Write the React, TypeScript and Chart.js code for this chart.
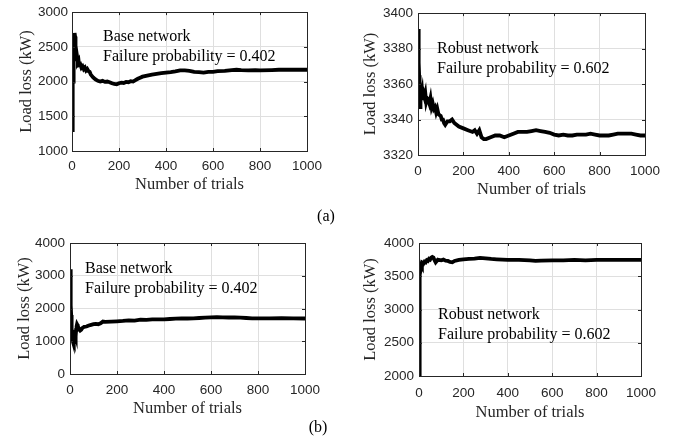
import React, { useEffect, useRef } from "react";
import { Chart, registerables } from "chart.js";

Chart.register(...registerables);

// ---------- data (trial number, running mean of load loss in kW) ----------
const trialTicks = [0, 200, 400, 600, 800, 1000];

const baseTicksA = [1000, 1500, 2000, 2500, 3000];
const robustTicksA = [3320, 3340, 3360, 3380, 3400];
const baseTicksB = [0, 1000, 2000, 3000, 4000];
const robustTicksB = [2000, 2500, 3000, 3500, 4000];

const baseNetworkA: [number, number][] = [
  [1, 1300], [2, 1900], [3, 1600], [4, 2200], [5, 2000], [6, 2400], [7, 2300], [8, 2550],
  [9, 2500], [10, 2650], [11, 2600], [12, 2700], [13, 2650], [14, 2550], [15, 2600], [16, 2450],
  [18, 2380], [20, 2300], [22, 2350], [25, 2280], [28, 2300], [30, 2240], [35, 2250], [40, 2200],
  [45, 2220], [50, 2180], [55, 2200], [60, 2160], [65, 2180], [70, 2150], [75, 2140], [80, 2100],
  [90, 2060], [100, 2030], [110, 2010], [120, 2000], [130, 2010], [140, 1995], [150, 2000],
  [160, 1990], [170, 1975], [180, 1965], [190, 1960], [200, 1975], [210, 1985], [220, 1980],
  [230, 1995], [240, 1990], [250, 2005], [260, 2000], [270, 2020], [280, 2040], [290, 2055],
  [300, 2070], [320, 2085], [340, 2100], [360, 2110], [380, 2120], [400, 2130], [420, 2135],
  [440, 2145], [460, 2160], [480, 2160], [500, 2155], [520, 2140], [540, 2135], [560, 2130],
  [580, 2140], [600, 2140], [620, 2150], [650, 2155], [680, 2165], [700, 2170], [720, 2165],
  [750, 2160], [780, 2165], [800, 2160], [850, 2165], [880, 2170], [900, 2170], [950, 2170],
  [1000, 2170],
];

const robustNetworkA: [number, number][] = [
  [1, 3391], [2, 3380], [3, 3388], [4, 3372], [5, 3365], [6, 3360], [7, 3357], [8, 3350],
  [9, 3347], [10, 3352], [12, 3356], [15, 3354], [18, 3356], [21, 3351], [24, 3355],
  [28, 3353], [32, 3355], [36, 3350], [40, 3352], [45, 3351], [50, 3349], [55, 3352],
  [60, 3347], [65, 3349], [70, 3346], [75, 3347], [80, 3344], [85, 3346], [90, 3343],
  [100, 3342], [105, 3340], [110, 3340], [115, 3338], [120, 3337], [130, 3339], [140, 3339],
  [150, 3340], [160, 3338], [170, 3337], [180, 3336], [200, 3335], [220, 3334], [240, 3333],
  [250, 3334], [260, 3332], [270, 3334], [280, 3330], [290, 3329], [300, 3329], [320, 3330],
  [340, 3331], [360, 3331], [380, 3330], [400, 3331], [420, 3332], [440, 3333], [460, 3333],
  [480, 3333], [500, 3333.5], [520, 3334], [540, 3333.5], [560, 3333], [580, 3332.5],
  [600, 3331.5], [620, 3331], [640, 3331.5], [660, 3331], [680, 3331], [700, 3331.5],
  [720, 3331.5], [740, 3331.5], [760, 3332], [780, 3331.5], [800, 3331], [820, 3331],
  [840, 3331], [860, 3331.5], [880, 3332], [900, 3332], [920, 3332], [940, 3332],
  [960, 3331.5], [980, 3331], [1000, 3331],
];

const baseNetworkB: [number, number][] = [
  [1, 1600], [2, 3200], [3, 2600], [4, 2100], [5, 1800], [6, 1500], [7, 1300], [8, 1200],
  [10, 1050], [12, 1000], [14, 1100], [16, 1050], [18, 1250], [20, 1350], [22, 1200],
  [24, 1150], [26, 1350], [28, 1450], [30, 1520], [33, 1480], [36, 1400], [40, 1380],
  [44, 1330], [48, 1350], [52, 1400], [56, 1420], [60, 1440], [70, 1450], [80, 1480],
  [90, 1500], [100, 1520], [110, 1530], [120, 1520], [130, 1550], [140, 1600], [150, 1590],
  [175, 1600], [200, 1610], [225, 1620], [250, 1640], [275, 1630], [300, 1660], [325, 1655],
  [350, 1665], [375, 1670], [400, 1670], [425, 1680], [450, 1690], [475, 1700], [500, 1695],
  [525, 1700], [550, 1710], [575, 1720], [600, 1730], [625, 1735], [650, 1730], [675, 1725],
  [700, 1730], [725, 1720], [750, 1710], [775, 1700], [800, 1700], [850, 1700], [900, 1705],
  [950, 1700], [1000, 1695],
];

const robustNetworkB: [number, number][] = [
  [1, 2000], [2, 2800], [3, 3300], [4, 3500], [5, 3600], [7, 3650], [10, 3680], [13, 3660],
  [16, 3700], [20, 3690], [25, 3720], [30, 3710], [35, 3740], [40, 3730], [45, 3760],
  [50, 3750], [55, 3780], [60, 3790], [65, 3780], [70, 3740], [75, 3710], [80, 3730],
  [85, 3750], [90, 3745], [100, 3740], [110, 3750], [120, 3735], [130, 3730], [140, 3715],
  [150, 3710], [160, 3730], [180, 3745], [200, 3755], [225, 3760], [250, 3765], [275, 3775],
  [300, 3770], [325, 3760], [350, 3755], [375, 3750], [400, 3745], [450, 3745], [500, 3740],
  [525, 3730], [550, 3735], [600, 3740], [650, 3740], [700, 3745], [750, 3740], [800, 3745],
  [850, 3745], [900, 3745], [950, 3745], [1000, 3745],
];

// ---------- panel component ----------
type PanelProps = {
  left: number; top: number; width: number; height: number;
  yWidth: number; xHeight: number; padTop: number; padRight: number;
  xTickPad: number; yTickPad: number; yTitlePad: number; xTitlePad: number;
  series: [number, number][];
  yTicks: number[];
  note: string[]; noteX: number; noteY: number;
};

const SERIF = '"Liberation Serif", "Times New Roman", serif';
const SANS = '"Liberation Sans", Arial, Helvetica, sans-serif';

function Panel(p: PanelProps) {
  const ref = useRef<HTMLCanvasElement | null>(null);
  useEffect(() => {
    const canvas = ref.current;
    if (!canvas) return;
    const boxPlugin = {
      id: "boxAndNotes",
      afterDatasetsDraw(chart: any) {
        const { ctx, chartArea: a, scales } = chart;
        ctx.save();
        ctx.strokeStyle = "#262626";
        ctx.lineWidth = 1;
        const xs = scales.x, ys = scales.y;
        ctx.beginPath();
        for (const t of xs.ticks) {
          const px = Math.round(xs.getPixelForValue(t.value)) + 0.5;
          ctx.moveTo(px, a.bottom); ctx.lineTo(px, a.bottom - 3);
          ctx.moveTo(px, a.top); ctx.lineTo(px, a.top + 3);
        }
        for (const t of ys.ticks) {
          const py = Math.round(ys.getPixelForValue(t.value)) + 0.5;
          ctx.moveTo(a.left, py); ctx.lineTo(a.left + 3, py);
          ctx.moveTo(a.right, py); ctx.lineTo(a.right - 3, py);
        }
        ctx.stroke();
        ctx.strokeRect(Math.round(a.left) + 0.5, Math.round(a.top) + 0.5,
          Math.round(a.right - a.left), Math.round(a.bottom - a.top));
        ctx.fillStyle = "#000";
        ctx.font = `16px ${SERIF}`;
        ctx.textBaseline = "middle";
        ctx.textAlign = "left";
        p.note.forEach((line, i) => {
          ctx.fillText(line, a.left + p.noteX, a.top + p.noteY + i * 19.5);
        });
        ctx.restore();
      },
    };
    const chart = new Chart(canvas, {
      type: "line",
      data: {
        datasets: [{
          data: p.series.map(([x, y]) => ({ x, y })),
          borderColor: "#000",
          borderWidth: 3.8,
          pointRadius: 0,
          tension: 0,
          fill: false,
        }],
      },
      options: {
        responsive: false,
        animation: false,
        devicePixelRatio: 1,
        layout: { padding: { top: p.padTop, right: p.padRight, left: 0, bottom: 0 } },
        plugins: { legend: { display: false }, tooltip: { enabled: false }, title: { display: false } },
        scales: {
          x: {
            type: "linear",
            min: trialTicks[0],
            max: trialTicks[trialTicks.length - 1],
            afterBuildTicks: (s: any) => { s.ticks = trialTicks.map((v) => ({ value: v })); },
            afterFit: (s: any) => { s.height = p.xHeight; },
            grid: { color: "#dfdfdf", drawTicks: false, lineWidth: 1 },
            border: { display: false },
            ticks: {
              color: "#262626", font: { family: SANS, size: 13.5 }, padding: p.xTickPad,
              maxRotation: 0, autoSkip: false, callback: (v: any) => String(v),
            },
            title: { display: true, text: "Number of trials", color: "#262626", font: { family: SERIF, size: 16.5 }, padding: { top: 0, bottom: p.xTitlePad } },
          },
          y: {
            type: "linear",
            min: p.yTicks[0],
            max: p.yTicks[p.yTicks.length - 1],
            afterBuildTicks: (s: any) => { s.ticks = p.yTicks.map((v) => ({ value: v })); },
            afterFit: (s: any) => { s.width = p.yWidth; },
            grid: { color: "#dfdfdf", drawTicks: false, lineWidth: 1 },
            border: { display: false },
            ticks: {
              color: "#262626", font: { family: SANS, size: 13.5 }, padding: p.yTickPad,
              autoSkip: false, callback: (v: any) => String(v),
            },
            title: { display: true, text: "Load loss (kW)", color: "#262626", font: { family: SERIF, size: 16.5 }, padding: { top: p.yTitlePad, bottom: 0 } },
          },
        },
      },
      plugins: [boxPlugin],
    } as any);
    return () => chart.destroy();
  }, []);
  return (
    <canvas
      ref={ref}
      width={p.width}
      height={p.height}
      style={{ position: "absolute", left: p.left, top: p.top, width: p.width, height: p.height }}
    />
  );
}

const captionStyle: React.CSSProperties = {
  position: "absolute",
  fontFamily: SERIF,
  fontSize: 16,
  lineHeight: "16px",
  color: "#000",
  transform: "translate(-50%, -50%)",
  whiteSpace: "nowrap",
};

export default function App() {
  return (
    <div style={{ position: "fixed", left: 0, top: 0, width: 688, height: 442, background: "#fff" }}>
      <Panel left={0} top={0} width={344} height={200} yWidth={72} xHeight={49} padTop={7} padRight={37}
        xTickPad={7} yTickPad={4} yTitlePad={17} xTitlePad={5}
        series={baseNetworkA} yTicks={baseTicksA}
        note={["Base network", "Failure probability = 0.402"]} noteX={31} noteY={25} />
      <Panel left={344} top={0} width={344} height={200} yWidth={74} xHeight={45} padTop={6} padRight={43}
        xTickPad={8} yTickPad={5} yTitlePad={17} xTitlePad={0}
        series={robustNetworkA} yTicks={robustTicksA}
        note={["Robust network", "Failure probability = 0.602"]} noteX={19} noteY={36} />
      <Panel left={0} top={220} width={344} height={222} yWidth={70} xHeight={68} padTop={23} padRight={39}
        xTickPad={8} yTickPad={5} yTitlePad={15} xTitlePad={23}
        series={baseNetworkB} yTicks={baseTicksB}
        note={["Base network", "Failure probability = 0.402"]} noteX={15} noteY={26} />
      <Panel left={344} top={220} width={344} height={222} yWidth={75} xHeight={66} padTop={23} padRight={47}
        xTickPad={9} yTickPad={5} yTitlePad={16.6} xTitlePad={19.3}
        series={robustNetworkB} yTicks={robustTicksB}
        note={["Robust network", "Failure probability = 0.602"]} noteX={19} noteY={72} />
      <div style={{ ...captionStyle, left: 326, top: 216 }}>(a)</div>
      <div style={{ ...captionStyle, left: 318, top: 427 }}>(b)</div>
    </div>
  );
}
